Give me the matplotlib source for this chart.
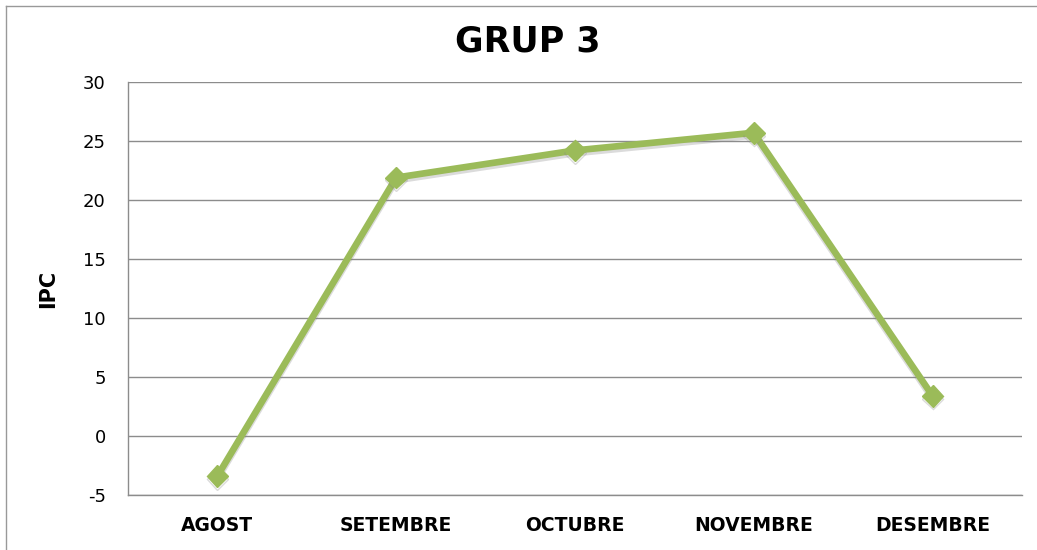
"""
GRUP 3 - IPC per mes, line chart with diamond markers.
"""
import matplotlib.pyplot as plt
from matplotlib.lines import Line2D
import matplotlib.patheffects as pe

plt.rcParams['axes.unicode_minus'] = False

months = ['AGOST', 'SETEMBRE', 'OCTUBRE', 'NOVEMBRE', 'DESEMBRE']
ipc = [-3.4, 21.9, 24.2, 25.7, 3.4]

green = '#9BBB59'
grid_grey = '#8C8C8C'

fig = plt.figure(figsize=(10.37, 5.5), dpi=100)
ax = fig.add_axes([0.1234, 0.1, 0.8621, 0.7509])

x = list(range(len(months)))
ax.plot(x, ipc, color=green, linewidth=4.8, marker='D', markersize=11,
        markerfacecolor=green, markeredgecolor=green, zorder=3,
        path_effects=[pe.SimpleLineShadow(offset=(0, -2), shadow_color='#888888', alpha=0.3),
                      pe.Normal()])

ax.set_xlim(-0.5, len(months) - 0.5)
ax.set_ylim(-5, 30)
ax.set_yticks(range(-5, 31, 5))
ax.set_xticks(x)
ax.set_xticklabels(months, fontsize=13.5, fontweight='bold', family='DejaVu Sans')

ax.yaxis.grid(True, color=grid_grey, linewidth=1)
ax.set_axisbelow(True)
for side in ['top', 'right']:
    ax.spines[side].set_visible(False)
for side in ['left', 'bottom']:
    ax.spines[side].set_color(grid_grey)
    ax.spines[side].set_linewidth(1)

ax.tick_params(axis='y', length=0, pad=16, labelsize=13)
ax.tick_params(axis='x', length=0, pad=15)

ax.set_ylabel('IPC', fontsize=15, fontweight='bold', labelpad=18)

fig.text(0.509, 0.924, 'GRUP 3', ha='center', va='center',
         fontsize=25, fontweight='bold', family='DejaVu Sans')

# chart area border (only left and top edges are visible in the crop)
fig.add_artist(Line2D([6 / 1037, 6 / 1037], [0, 1 - 6 / 550], color='#999999', linewidth=1))
fig.add_artist(Line2D([6 / 1037, 1], [1 - 6 / 550, 1 - 6 / 550], color='#999999', linewidth=1))

fig.savefig('out.png', dpi=100)
